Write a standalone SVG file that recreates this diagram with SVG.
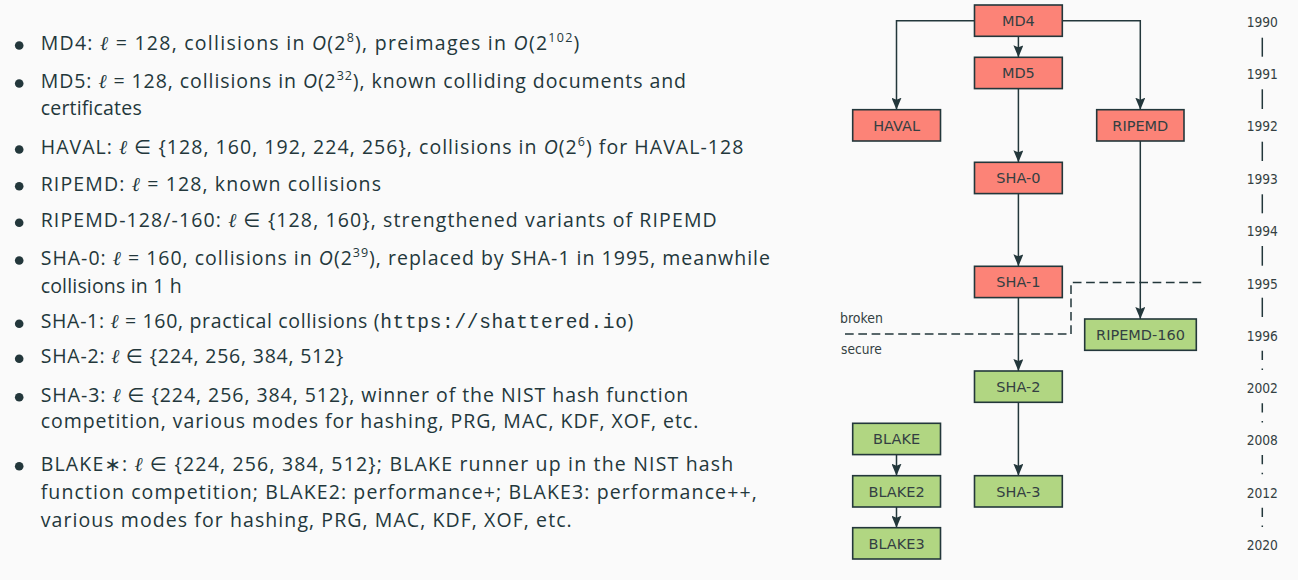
<svg xmlns="http://www.w3.org/2000/svg" width="1298" height="580" viewBox="0 0 1298 580">
  <style>
    .txt { font-family: "Open Sans", "DejaVu Sans", sans-serif; font-size: 19.5px; fill: #23373b; }
    .ell { font-family: "DejaVu Serif", serif; font-style: italic; }
    .bigo { font-style: italic; }
    .sym { font-family: "DejaVu Sans", sans-serif; }
    .sup { font-size: 12.5px; }
    .mono { font-family: "Liberation Mono", monospace; }
    .bullet { fill: #23373b; }
    .red rect { fill: #fc8377; stroke: #23373b; stroke-width: 1.6; }
    .green rect { fill: #b1d682; stroke: #23373b; stroke-width: 1.6; }
    .node text { font-family: "DejaVu Sans", sans-serif; font-size: 14.5px; fill: #343f42; text-anchor: middle; }
    .edge { fill: none; stroke: #23373b; stroke-width: 1.5; marker-end: url(#arrow); }
    .year { font-family: "DejaVu Sans", sans-serif; font-size: 14.5px; fill: #343f42; text-anchor: middle; }
    .tick { stroke: #23373b; stroke-width: 1.5; }
    .tick-dash { stroke: #23373b; stroke-width: 1.5; stroke-dasharray: 9.3 8.5; }
    .divider { fill: none; stroke: #23373b; stroke-width: 1.5; stroke-dasharray: 8.7 4.6; }
    .side { font-family: "DejaVu Sans", sans-serif; font-size: 13.5px; fill: #343f42; }
  </style>
  <defs>
    <marker id="arrow" markerUnits="userSpaceOnUse" viewBox="0 0 12 10" refX="12" refY="5" markerWidth="12" markerHeight="10" orient="auto">
      <path d="M0,0 L12,5 L0,10 L2,5 Z" fill="#23373b"/>
    </marker>
  </defs>

  <rect width="1298" height="580" fill="#fafafa"/>

  <!-- hash function list -->
  <g id="list" class="txt">
    <circle class="bullet" cx="19.2" cy="45.5" r="4.3"/>
    <text x="40.7" y="50" textLength="538.6" lengthAdjust="spacing">MD4: <tspan class="ell">ℓ</tspan> = 128, collisions in <tspan class="bigo">O</tspan>(2<tspan class="sup" dy="-8">8</tspan><tspan dy="8">), preimages in </tspan><tspan class="bigo">O</tspan>(2<tspan class="sup" dy="-8">102</tspan><tspan dy="8">)</tspan></text>

    <circle class="bullet" cx="19.2" cy="83.5" r="4.3"/>
    <text x="40.7" y="88" textLength="645.3" lengthAdjust="spacing">MD5: <tspan class="ell">ℓ</tspan> = 128, collisions in <tspan class="bigo">O</tspan>(2<tspan class="sup" dy="-8">32</tspan><tspan dy="8">), known colliding documents and</tspan></text>
    <text x="40.7" y="115" textLength="101" lengthAdjust="spacing">certificates</text>

    <circle class="bullet" cx="19.2" cy="149.5" r="4.3"/>
    <text x="40.7" y="154" textLength="702.6" lengthAdjust="spacing">HAVAL: <tspan class="ell">ℓ</tspan> <tspan class="sym">∈</tspan> {128, 160, 192, 224, 256}, collisions in <tspan class="bigo">O</tspan>(2<tspan class="sup" dy="-8">6</tspan><tspan dy="8">) for HAVAL-128</tspan></text>

    <circle class="bullet" cx="19.2" cy="186.2" r="4.3"/>
    <text x="40.7" y="190.7" textLength="340.3" lengthAdjust="spacing">RIPEMD: <tspan class="ell">ℓ</tspan> = 128, known collisions</text>

    <circle class="bullet" cx="19.2" cy="222.8" r="4.3"/>
    <text x="40.7" y="227.3" textLength="676" lengthAdjust="spacing">RIPEMD-128/-160: <tspan class="ell">ℓ</tspan> <tspan class="sym">∈</tspan> {128, 160}, strengthened variants of RIPEMD</text>

    <circle class="bullet" cx="19.2" cy="260.5" r="4.3"/>
    <text x="40.7" y="265" textLength="729.3" lengthAdjust="spacing">SHA-0: <tspan class="ell">ℓ</tspan> = 160, collisions in <tspan class="bigo">O</tspan>(2<tspan class="sup" dy="-8">39</tspan><tspan dy="8">), replaced by SHA-1 in 1995, meanwhile</tspan></text>
    <text x="40.7" y="293.3" textLength="141" lengthAdjust="spacing">collisions in 1 h</text>

    <circle class="bullet" cx="19.2" cy="323.8" r="4.3"/>
    <text x="40.7" y="328.3" textLength="592.6" lengthAdjust="spacing">SHA-1: <tspan class="ell">ℓ</tspan> = 160, practical collisions (<tspan class="mono">https://shattered.io</tspan>)</text>

    <circle class="bullet" cx="19.2" cy="358.8" r="4.3"/>
    <text x="40.7" y="363.3" textLength="302.6" lengthAdjust="spacing">SHA-2: <tspan class="ell">ℓ</tspan> <tspan class="sym">∈</tspan> {224, 256, 384, 512}</text>

    <circle class="bullet" cx="19.2" cy="397.2" r="4.3"/>
    <text x="40.7" y="401.7" textLength="647.6" lengthAdjust="spacing">SHA-3: <tspan class="ell">ℓ</tspan> <tspan class="sym">∈</tspan> {224, 256, 384, 512}, winner of the NIST hash function</text>
    <text x="40.7" y="428.3" textLength="657.6" lengthAdjust="spacing">competition, various modes for hashing, PRG, MAC, KDF, XOF, etc.</text>

    <circle class="bullet" cx="19.2" cy="466.2" r="4.3"/>
    <text x="40.7" y="470.7" textLength="692.6" lengthAdjust="spacing">BLAKE<tspan class="sym">∗</tspan>: <tspan class="ell">ℓ</tspan> <tspan class="sym">∈</tspan> {224, 256, 384, 512}; BLAKE runner up in the NIST hash</text>
    <text x="40.7" y="499" textLength="716" lengthAdjust="spacing">function competition; BLAKE2: performance+; BLAKE3: performance++,</text>
    <text x="40.7" y="526.7" textLength="531" lengthAdjust="spacing">various modes for hashing, PRG, MAC, KDF, XOF, etc.</text>
  </g>

  <!-- broken / secure divider -->
  <g id="divider">
    <path class="divider" d="M845,334 H1071 V282.5 H1205"/>
    <text class="side" x="840" y="322.7" textLength="43" lengthAdjust="spacingAndGlyphs">broken</text>
    <text class="side" x="841" y="354.3" textLength="40.7" lengthAdjust="spacingAndGlyphs">secure</text>
  </g>

  <!-- timeline -->
  <g id="timeline">
    <text class="year" x="1262.3" y="26.7" textLength="31.3" lengthAdjust="spacingAndGlyphs">1990</text>
    <text class="year" x="1262.3" y="79" textLength="31.3" lengthAdjust="spacingAndGlyphs">1991</text>
    <text class="year" x="1262.3" y="131.3" textLength="31.3" lengthAdjust="spacingAndGlyphs">1992</text>
    <text class="year" x="1262.3" y="183.8" textLength="31.3" lengthAdjust="spacingAndGlyphs">1993</text>
    <text class="year" x="1262.3" y="236.2" textLength="31.3" lengthAdjust="spacingAndGlyphs">1994</text>
    <text class="year" x="1262.3" y="288.5" textLength="31.3" lengthAdjust="spacingAndGlyphs">1995</text>
    <text class="year" x="1262.3" y="340.7" textLength="31.3" lengthAdjust="spacingAndGlyphs">1996</text>
    <text class="year" x="1262.3" y="393" textLength="31.3" lengthAdjust="spacingAndGlyphs">2002</text>
    <text class="year" x="1262.3" y="445.2" textLength="31.3" lengthAdjust="spacingAndGlyphs">2008</text>
    <text class="year" x="1262.3" y="497.5" textLength="31.3" lengthAdjust="spacingAndGlyphs">2012</text>
    <text class="year" x="1262.3" y="549.8" textLength="31.3" lengthAdjust="spacingAndGlyphs">2020</text>
    <line class="tick" x1="1262.3" y1="37.7" x2="1262.3" y2="56.7"/>
    <line class="tick" x1="1262.3" y1="89.3" x2="1262.3" y2="109"/>
    <line class="tick" x1="1262.3" y1="141.7" x2="1262.3" y2="161"/>
    <line class="tick" x1="1262.3" y1="194.3" x2="1262.3" y2="213.3"/>
    <line class="tick" x1="1262.3" y1="246" x2="1262.3" y2="265.7"/>
    <line class="tick" x1="1262.3" y1="297.7" x2="1262.3" y2="317"/>
    <line class="tick-dash" x1="1262.3" y1="350.7" x2="1262.3" y2="370"/>
    <line class="tick-dash" x1="1262.3" y1="403.3" x2="1262.3" y2="422.6"/>
    <line class="tick-dash" x1="1262.3" y1="455" x2="1262.3" y2="474.3"/>
    <line class="tick-dash" x1="1262.3" y1="507.7" x2="1262.3" y2="527"/>
  </g>

  <!-- connectors -->
  <g id="connectors">
    <path class="edge" d="M1018.4,36 V57.3"/>
    <path class="edge" d="M974.5,20.7 H896.5 V109.7"/>
    <path class="edge" d="M1062.3,20.7 H1140.3 V109.7"/>
    <path class="edge" d="M1018.4,88.6 V162.3"/>
    <path class="edge" d="M1018.4,193.6 V266.3"/>
    <path class="edge" d="M1018.4,297.6 V371"/>
    <path class="edge" d="M1018.4,402.3 V475.7"/>
    <path class="edge" d="M1140.3,141 V319"/>
    <path class="edge" d="M896.5,454.6 V475.7"/>
    <path class="edge" d="M896.5,507 V527.7"/>
  </g>

  <!-- nodes -->
  <g id="md4" class="node red"><rect x="974.5" y="5" width="87.8" height="31.3"/><text x="1018.4" y="25.9">MD4</text></g>
  <g id="md5" class="node red"><rect x="974.5" y="57.3" width="87.8" height="31.3"/><text x="1018.4" y="78.2">MD5</text></g>
  <g id="haval" class="node red"><rect x="852.7" y="109.7" width="87.8" height="31.3"/><text x="896.6" y="130.6">HAVAL</text></g>
  <g id="ripemd" class="node red"><rect x="1096.7" y="109.7" width="87.3" height="31.3"/><text x="1140.3" y="130.6">RIPEMD</text></g>
  <g id="sha0" class="node red"><rect x="974.5" y="162.3" width="87.8" height="31.3"/><text x="1018.4" y="183.2">SHA-0</text></g>
  <g id="sha1" class="node red"><rect x="974.5" y="266.3" width="87.8" height="31.3"/><text x="1018.4" y="287.2">SHA-1</text></g>
  <g id="ripemd160" class="node green"><rect x="1084.7" y="319" width="111.6" height="31.3"/><text x="1140.5" y="339.9">RIPEMD-160</text></g>
  <g id="sha2" class="node green"><rect x="974.5" y="371" width="87.8" height="31.3"/><text x="1018.4" y="391.9">SHA-2</text></g>
  <g id="sha3" class="node green"><rect x="974.5" y="475.7" width="87.8" height="31.3"/><text x="1018.4" y="496.6">SHA-3</text></g>
  <g id="blake" class="node green"><rect x="852.7" y="423.3" width="87.8" height="31.3"/><text x="896.6" y="444.2">BLAKE</text></g>
  <g id="blake2" class="node green"><rect x="852.7" y="475.7" width="87.8" height="31.3"/><text x="896.6" y="496.6">BLAKE2</text></g>
  <g id="blake3" class="node green"><rect x="852.7" y="527.7" width="87.8" height="31.3"/><text x="896.6" y="548.6">BLAKE3</text></g>
</svg>
